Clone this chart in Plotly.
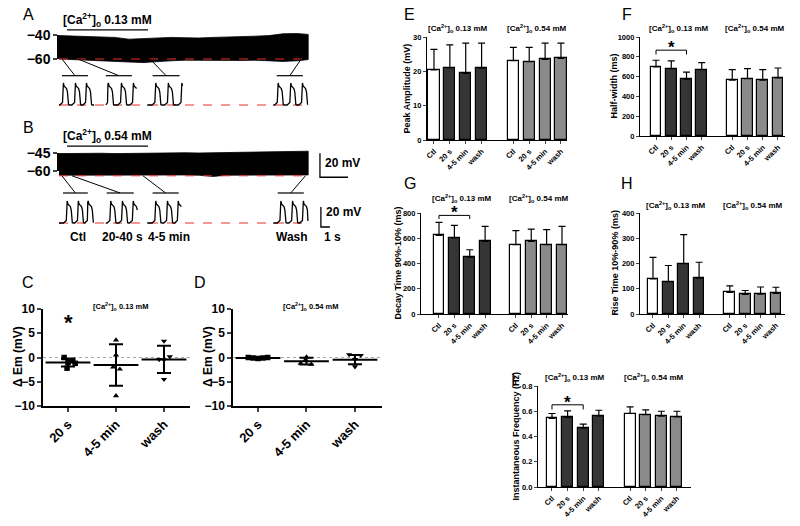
import plotly.graph_objects as go

W, H = 800, 526
FONT = "Liberation Sans"
DARK = "#353535"
MID = "#8a8a8a"
RED = "#e8302a"

# ======================= DATA =======================
# Panels A / B : envelope of the membrane-potential recording (mV) vs time (min)
trace_t = [0, 1, 2, 3, 4, 5, 6, 7, 8, 9, 10, 11, 12, 13, 14, 15, 16, 17, 17.8]
a_upper = [-40.5, -40.8, -41.2, -41.5, -42.0, -43.5, -43.0, -42.5, -42.0, -42.3,
           -42.5, -42.0, -41.8, -41.5, -41.0, -40.5, -39.0, -38.8, -39.5]
a_lower = [-60.0, -60.5, -61.0, -61.5, -62.0, -62.5, -63.0, -62.5, -61.5, -61.0,
           -60.8, -60.8, -61.0, -61.2, -61.0, -61.5, -62.0, -61.5, -60.5]
b_upper = [-45.5, -45.3, -45.0, -45.2, -45.5, -45.3, -45.0, -45.2, -45.0, -44.8,
           -45.0, -44.8, -44.5, -44.5, -44.3, -44.0, -43.8, -43.5, -43.5]
b_lower = [-63.5, -63.5, -63.3, -63.3, -63.5, -63.3, -63.3, -63.5, -63.3, -63.3,
           -63.5, -64.5, -63.5, -63.3, -63.3, -63.5, -63.3, -63.3, -63.3]
a_rest = -60.0
b_rest = -64.0
a_yticks = [-40, -60]
b_yticks = [-45, -60]
sol_on, sol_off = 0.57, 6.36          # min, solution application
a_sol_text = "[Ca<sup>2+</sup>]<sub>o</sub> 0.13 mM"
b_sol_text = "[Ca<sup>2+</sup>]<sub>o</sub> 0.54 mM"

# expanded action-potential snippets (time in s, mV above resting level)
ap_t = [-0.35, -0.05, 0.0, 0.05, 0.12, 0.40, 0.50, 0.56, 0.62, 0.75]
ap_v = [0.0, 2.5, 21.0, 22.0, 19.0, 16.5, 13.0, 2.0, 0.3, 0.0]
snip_end = 27.67                        # s, end of the expanded traces' baseline
a_snip_span = [(0.0, 3.9), (5.2, 8.7), (9.8, 13.8), (23.8, 27.7)]
a_snip_onsets = [[0.44, 1.78, 3.0], [5.44, 6.89, 8.22], [10.7, 12.1, 13.6], [24.3, 25.7, 27.0]]
a_snip_window = [(0.33, 3.22), (5.2, 8.1), (10.4, 13.4), (24.2, 27.1)]
a_link_t = [0.21, 1.36, 6.5, 17.3]      # min on the full trace
b_snip_span = [(0.0, 3.9), (5.2, 8.7), (9.8, 13.6), (23.8, 27.7)]
b_snip_onsets = [[0.86, 2.1, 3.2], [5.7, 7.0, 8.2], [10.7, 12.0, 13.2], [24.6, 25.9, 27.1]]
b_snip_window = [(0.44, 3.2), (5.3, 8.3), (10.4, 13.3), (24.3, 27.2)]
b_link_t = [0.21, 0.93, 6.0, 17.6]
snip_labels = ["Ctl", "20-40 s", "4-5 min", "Wash"]
snip_label_t = [2.1, 7.0, 12.2, 25.9]

# Panels C / D : change in membrane potential (mV)
cd_cats = ["20 s", "4-5 min", "wash"]
c_pts = [[0.0, -0.6, -1.0, -1.2, -2.2],
         [3.6, 0.5, -2.0, -2.4, -7.9],
         [3.4, -0.4, -0.5, 0.2, -4.5]]
c_jit = [[-0.08, 0.1, 0.0, 0.15, -0.02],
         [0.0, 0.0, -0.06, 0.08, 0.0],
         [0.0, -0.1, 0.0, 0.12, 0.0]]
c_mean = [-1.05, -1.55, -0.4]
c_sd = [0.8, 4.3, 2.8]
d_pts = [[0.0, -0.1, -0.2, -0.1, 0.0],
         [0.1, -0.5, -1.2, -1.4],
         [0.6, 0.45, -0.4, -1.9]]
d_jit = [[-0.2, -0.1, 0.0, 0.1, 0.2],
         [0.0, -0.02, -0.12, 0.1],
         [-0.12, 0.12, 0.0, 0.0]]
d_mean = [-0.1, -0.75, -0.45]
d_sd = [0.12, 0.7, 0.95]
marker_syms = ["square", "triangle-up", "triangle-down"]

# Panels E-I : bar charts (mean, top of error bar)
bar_cats = ["Ctl", "20 s", "4-5 min", "wash"]
bar_pos = [0, 1, 2, 3, 5, 6, 7, 8]
e_val = [20.4, 21.1, 19.4, 20.9, 23.1, 22.8, 23.5, 23.8]
e_top = [26.4, 27.7, 28.2, 28.2, 27.0, 27.0, 28.2, 28.2]
f_val = [697, 681, 573, 671, 563, 580, 563, 586]
f_top = [765, 758, 646, 741, 671, 681, 671, 687]
g_val = [623, 602, 451, 575, 549, 575, 549, 549]
g_top = [726, 702, 509, 694, 660, 673, 668, 694]
h_val = [139, 128, 199, 142, 86, 78, 79, 82]
h_top = [224, 192, 314, 205, 111, 93, 107, 106]
i_val = [0.543, 0.551, 0.466, 0.563, 0.582, 0.574, 0.561, 0.555]
i_top = [0.582, 0.603, 0.498, 0.608, 0.634, 0.611, 0.600, 0.600]
f_sig = (867, 823, 923)     # bracket level, tick end, star
g_sig = (781, 752, 827)
i_sig = (0.651, 0.614, 0.69)
grp_titles = ["[Ca<sup>2+</sup>]<sub>o</sub> 0.13 mM", "[Ca<sup>2+</sup>]<sub>o</sub> 0.54 mM"]

# ======================= LAYOUT HELPERS =======================
def dx(a, b):
    return [a / W, b / W]

def dy(top, bottom):
    return [1 - bottom / H, 1 - top / H]

def to_paper_x(v, dom, rng):
    return (dom[0] + (v - rng[0]) / (rng[1] - rng[0]) * (dom[1] - dom[0])) / W

def to_paper_y(v, dom, rng):   # dom = (top_px, bottom_px)
    px = dom[1] - (v - rng[0]) / (rng[1] - rng[0]) * (dom[1] - dom[0])
    return 1 - px / H

fig = go.Figure()
layout = {}
annos = []
shapes = []
bold = dict(family=FONT, color="black", weight="bold")

def ann(text, x, y, xref="paper", yref="paper", size=10, weight="bold", **kw):
    d = dict(text=text, x=x, y=y, xref=xref, yref=yref, showarrow=False,
             xanchor="center", yanchor="middle",
             font=dict(family=FONT, size=size, color="black", weight=weight))
    d.update(kw)
    annos.append(d)

def line(x, y, xa, ya, color="black", width=1.2, dash=None):
    fig.add_trace(go.Scatter(x=x, y=y, xaxis=xa, yaxis=ya, mode="lines",
                             line=dict(color=color, width=width, dash=dash),
                             hoverinfo="skip", showlegend=False))

# ---------- trace panels (A, B) ----------
T_DOM = (59, 360)
T_RNG = [0, (T_DOM[1] - T_DOM[0]) / 14.0]     # 14 px per min
S_RNG = [0, (T_DOM[1] - T_DOM[0]) / 9.0]      # 9 px per s

def trace_panel(n_x, n_ydisp, n_ydata, n_xs, n_ys, disp_px, disp_rng, data_px,
                upper, lower, rest, yticks, sol_text, sol_level,
                snip_px, snip_rng, spans, onsets, windows, link_t, bar_level):
    layout[f"xaxis{n_x}"] = dict(domain=dx(*T_DOM), range=T_RNG, visible=False,
                                 anchor=f"y{n_ydata}", automargin=False)
    px_per_mv = (disp_px[1] - disp_px[0]) / (disp_rng[1] - disp_rng[0])
    data_rng = [disp_rng[0] - (data_px[1] - disp_px[1]) / px_per_mv,
                disp_rng[1] + (disp_px[0] - data_px[0]) / px_per_mv]
    layout[f"yaxis{n_ydisp}"] = dict(domain=dy(*disp_px), range=disp_rng, anchor=f"x{n_x}",
                                     tickvals=yticks, showline=True, linecolor="black",
                                     linewidth=1.5, ticks="outside", ticklen=4, tickwidth=1.5,
                                     tickfont=dict(bold, size=14), showgrid=False,
                                     zeroline=False, automargin=False)
    layout[f"yaxis{n_ydata}"] = dict(domain=dy(*data_px), range=data_rng, anchor=f"x{n_x}",
                                     visible=False, automargin=False)
    fig.add_trace(go.Scatter(x=[None], y=[None], xaxis=f"x{n_x}", yaxis=f"y{n_ydisp}",
                             showlegend=False, hoverinfo="skip"))
    xa, ya = f"x{n_x}", f"y{n_ydata}"
    fig.add_trace(go.Scatter(x=trace_t + trace_t[::-1], y=upper + lower[::-1], xaxis=xa, yaxis=ya,
                             fill="toself", fillcolor="black", mode="lines",
                             line=dict(color="black", width=0.8), showlegend=False,
                             hoverinfo="skip"))
    line([trace_t[0], trace_t[-1]], [rest, rest], xa, ya, color=RED, width=1, dash="dash")
    line([sol_on, sol_off], [sol_level, sol_level], xa, ya, width=1.3)
    ann(sol_text, (sol_on + sol_off) / 2, sol_level, xref=xa, yref=ya, size=12,
        yanchor="bottom", yshift=-1)
    layout[f"xaxis{n_xs}"] = dict(domain=dx(*T_DOM), range=S_RNG, visible=False,
                                  anchor=f"y{n_ys}", automargin=False)
    layout[f"yaxis{n_ys}"] = dict(domain=dy(*snip_px), range=snip_rng, visible=False,
                                  anchor=f"x{n_xs}", automargin=False)
    xs, ys = f"x{n_xs}", f"y{n_ys}"
    line([0, snip_end], [0, 0], xs, ys, color=RED, width=1, dash="dash")
    for (s0, s1), ons, (w0, w1), lt in zip(spans, onsets, windows, link_t):
        xx, yy = [s0], [0.0]
        for o in ons:
            for t, v in zip(ap_t, ap_v):
                tt = o + t
                if xx[-1] < tt <= s1:
                    xx.append(tt)
                    yy.append(v)
        if xx[-1] < s1 and yy[-1] == 0.0:
            xx.append(s1)
            yy.append(0.0)
        line(xx, yy, xs, ys, width=1.3)
        line([w0, w1], [bar_level, bar_level], xs, ys, width=1.2)
        shapes.append(dict(type="line", xref="paper", yref="paper",
                           x0=to_paper_x(lt, T_DOM, T_RNG),
                           y0=to_paper_y(rest, data_px, data_rng),
                           x1=to_paper_x((w0 + w1) / 2, T_DOM, S_RNG),
                           y1=to_paper_y(bar_level, snip_px, snip_rng),
                           line=dict(color="black", width=1)))
    return xa, ya, xs, ys

trace_panel(1, 1, 2, 2, 3, (35, 59), [-60, -40], (16, 66), a_upper, a_lower, a_rest,
            a_yticks, a_sol_text, -35.8, (70, 110), [-5, 35], a_snip_span, a_snip_onsets,
            a_snip_window, a_link_t, 29.3)
xb, yb, xbs, ybs = trace_panel(3, 4, 5, 4, 6, (153, 171), [-60, -45], (134, 182), b_upper,
                               b_lower, b_rest, b_yticks, b_sol_text, -39.2, (186, 245),
                               [-22, 37], b_snip_span, b_snip_onsets, b_snip_window,
                               b_link_t, 30)
# scale bars
line([18.64, 18.64, 20.64], [-45.2, -65.2, -65.2], xb, yb, width=1.3)
ann("20 mV", 18.86, -53, xref=xb, yref=yb, size=12, xanchor="left")
ann("2 min", 19.9, -74.5, xref=xb, yref=yb, size=12)
line([29.1, 29.1, 30.1], [16, -4, -4], xbs, ybs, width=1.3)
ann("20 mV", 29.4, 11.3, xref=xbs, yref=ybs, size=12, xanchor="left")
ann("1 s", 30.4, -14, xref=xbs, yref=ybs, size=12)
for lab, t in zip(snip_labels, snip_label_t):
    ann(lab, t, -14, xref=xbs, yref=ybs, size=12)

# ---------- scatter panels (C, D) ----------
CD_Y = (309, 406)
def scatter_panel(n, xdom, rng_x, pts, jit, mean, sd, title, star=None):
    xa, ya = f"x{n}", f"y{n + 2}"
    layout[f"xaxis{n}"] = dict(domain=dx(*xdom), range=rng_x, anchor=ya, tickvals=[0, 1, 2],
                               ticktext=cd_cats, tickangle=-45, showline=True,
                               linecolor="black", linewidth=1.5, ticks="outside", ticklen=4,
                               tickwidth=1.5, tickfont=dict(bold, size=13), showgrid=False,
                               zeroline=False, automargin=False)
    layout[f"yaxis{n + 2}"] = dict(domain=dy(*CD_Y), range=[-10, 10], anchor=xa,
                                   tickvals=[-10, -5, 0, 5, 10], showline=True,
                                   linecolor="black", linewidth=1.5, ticks="outside",
                                   ticklen=4, tickwidth=1.5, tickfont=dict(bold, size=12),
                                   showgrid=False, zeroline=False, automargin=False)
    shapes.append(dict(type="line", xref=f"{xa} domain", yref=ya, x0=0, x1=1, y0=0, y1=0,
                       line=dict(color="#aaaaaa", width=1, dash="dot"), layer="below"))
    for i, (p, j) in enumerate(zip(pts, jit)):
        fig.add_trace(go.Scatter(x=[i + v for v in j], y=p, xaxis=xa, yaxis=ya, mode="markers",
                                 marker=dict(symbol=marker_syms[i], size=5.5, color="black"),
                                 showlegend=False, hoverinfo="skip"))
    fig.add_trace(go.Scatter(x=[0, 1, 2], y=mean, xaxis=xa, yaxis=ya, mode="markers",
                             marker=dict(symbol="line-ew", size=32,
                                         line=dict(color="black", width=2)),
                             error_y=dict(type="data", array=sd, symmetric=True, color="black",
                                          thickness=2, width=7),
                             showlegend=False, hoverinfo="skip"))
    ann(title, 1.1, 1 - 306 / H, xref=xa, yref="paper", size=7.5)
    if star is not None:
        ann("*", 0, to_paper_y(star, CD_Y, [-10, 10]), xref=xa, yref="paper", size=22)
    ann("Δ Em (mV)", (xdom[0] - 25) / W, 1 - 357 / H, size=12, textangle=-90)
    return xa, ya

scatter_panel(5, (43, 190), [-0.521, 2.542], c_pts, c_jit, c_mean, c_sd, grp_titles[0], star=7.2)
scatter_panel(6, (233, 382), [-0.515, 2.557], d_pts, d_jit, d_mean, d_sd, grp_titles[1])

# ---------- bar panels (E - I) ----------
def bar_panel(n, xdom, rng_x, ydom, rng_y, yticks, vals, tops, title_y, ytitle, ytitle_x,
              tickformat=None, sig=None):
    xa, ya = f"x{n}", f"y{n + 2}"
    layout[f"xaxis{n}"] = dict(domain=dx(*xdom), range=rng_x, anchor=ya, tickvals=bar_pos,
                               ticktext=bar_cats * 2, tickangle=-45, showline=True,
                               linecolor="black", linewidth=1.2, ticks="outside", ticklen=3,
                               tickwidth=1, tickfont=dict(bold, size=7.5), showgrid=False,
                               zeroline=False, automargin=False)
    yd = dict(domain=dy(*ydom), range=rng_y, anchor=xa, tickvals=yticks, showline=True,
              linecolor="black", linewidth=1.2, ticks="outside", ticklen=3, tickwidth=1,
              tickfont=dict(bold, size=7.5), showgrid=False, zeroline=False, automargin=False)
    if tickformat:
        yd["tickformat"] = tickformat
    layout[f"yaxis{n + 2}"] = yd
    colors = ["white", DARK, DARK, DARK, "white", MID, MID, MID]
    fig.add_trace(go.Bar(x=bar_pos, y=vals, xaxis=xa, yaxis=ya, width=0.7,
                         marker=dict(color=colors, line=dict(color="black", width=1.2)),
                         error_y=dict(type="data", symmetric=False,
                                      array=[t - v for t, v in zip(tops, vals)],
                                      arrayminus=[0] * len(vals), color="black",
                                      thickness=1.2, width=3.5),
                         showlegend=False, hoverinfo="skip"))
    ann(grp_titles[0], 1.5, 1 - title_y / H, xref=xa, yref="paper", size=8)
    ann(grp_titles[1], 6.5, 1 - title_y / H, xref=xa, yref="paper", size=8)
    ann(ytitle, ytitle_x / W, 1 - (ydom[0] + ydom[1]) / 2 / H, size=9, textangle=-90)
    if sig is not None:
        lvl, tick, star = sig
        line([0, 0, 2, 2], [tick, lvl, lvl, tick], xa, ya, width=1)
        ann("*", 1, to_paper_y(star, ydom, rng_y), xref=xa, yref="paper", size=17, yshift=-3)

bar_panel(7, (427, 567), [-0.44, 8.38], (37, 140), [0, 30], [0, 10, 20, 30], e_val, e_top,
          28, "Peak Amplitude (mV)", 406)
bar_panel(8, (640, 785), [-1.05, 8.46], (37, 136), [0, 1000], [0, 200, 400, 600, 800, 1000],
          f_val, f_top, 28, "Half-width (ms)", 613, sig=f_sig)
bar_panel(9, (421, 568), [-1.17, 8.39], (213, 314), [0, 800], [0, 200, 400, 600, 800],
          g_val, g_top, 198, "Decay Time 90%-10% (ms)", 397, sig=g_sig)
bar_panel(10, (640, 785), [-0.845, 8.59], (213, 314), [0, 400], [0, 100, 200, 300, 400],
          h_val, h_top, 205, "Rise Time 10%-90% (ms)", 614)
bar_panel(11, (538, 691), [-0.896, 8.9], (386, 487), [0, 0.8], [0, 0.2, 0.4, 0.6, 0.8],
          i_val, i_top, 377, "Instantaneous Frequency (Hz)", 515, tickformat=".1f", sig=i_sig)

for letter, x, y in [("A", 28, 15), ("B", 28, 127), ("C", 28, 282), ("D", 200, 282),
                     ("E", 410, 15), ("F", 627, 15), ("G", 410, 183), ("H", 627, 183),
                     ("I", 513, 380)]:
    ann(letter, x / W, 1 - y / H, size=16, weight="normal")

fig.update_layout(template="none", width=W, height=H, margin=dict(l=0, r=0, t=0, b=0),
                  paper_bgcolor="white", plot_bgcolor="white", showlegend=False,
                  font=dict(family=FONT, color="black"), annotations=annos, shapes=shapes,
                  bargap=0, **layout)
fig.write_html("out.html", config={"displayModeBar": False},
               post_script="document.body.style.margin='0px';")
